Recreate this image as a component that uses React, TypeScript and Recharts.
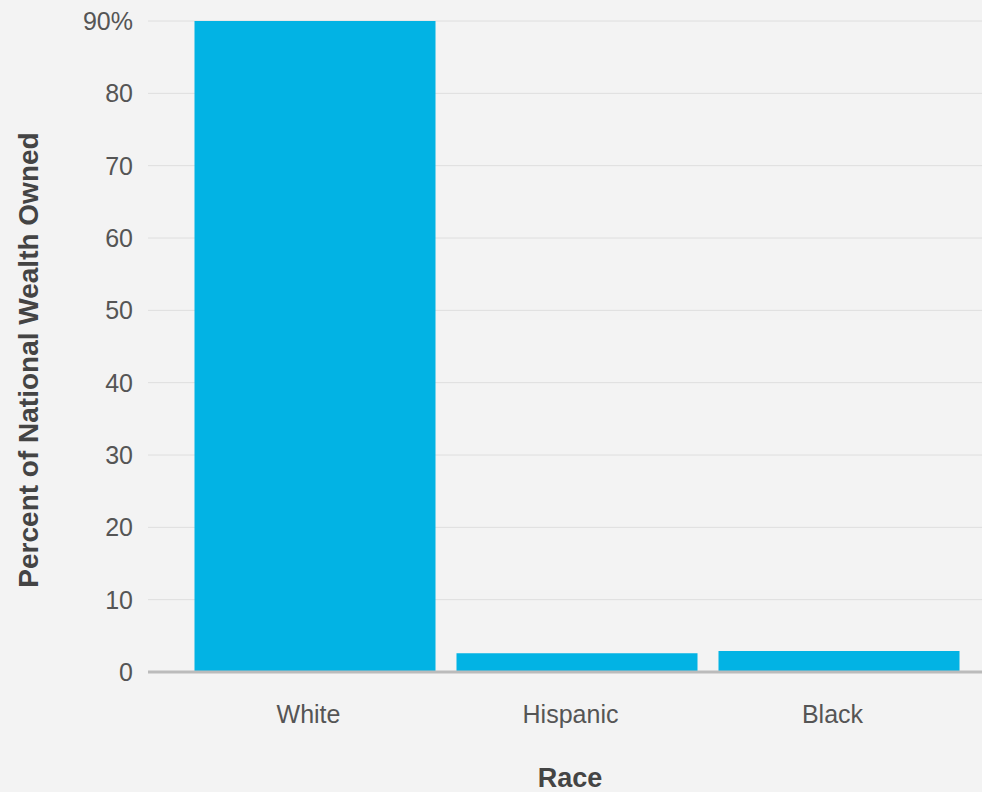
import { BarChart, Bar, XAxis, YAxis, CartesianGrid } from 'recharts';

const races = ['White', 'Hispanic', 'Black'];
const wealthShare = [90, 2.6, 2.9];
const yTicks = [0, 10, 20, 30, 40, 50, 60, 70, 80, 90];

const data = races.map((race, i) => ({ race, share: wealthShare[i] }));

const font = '"Liberation Sans", Arial, sans-serif';
const tickColor = '#555';

export default function App() {
  return (
    <div
      style={{
        position: 'absolute',
        left: 0,
        top: 0,
        width: 982,
        height: 792,
        background: '#f3f3f3',
        fontFamily: font,
      }}
    >
      <BarChart
        width={982}
        height={792}
        data={data}
        margin={{ top: 21, right: 0, left: 0, bottom: 30 }}
        barSize={241}
      >
        <CartesianGrid vertical={false} stroke="#dedede" strokeWidth={1} />
        <XAxis
          dataKey="race"
          height={90}
          padding={{ left: 35.5, right: 12.5 }}
          axisLine={{ stroke: '#bbb', strokeWidth: 3 }}
          tickLine={false}
          tickMargin={27}
          tick={{ fill: tickColor, fontSize: 25, fontFamily: font, dx: -6 }}
          label={{
            value: 'Race',
            position: 'bottom',
            offset: 6,
            dx: 5,
            fill: '#444',
            fontSize: 27,
            fontWeight: 'bold',
            fontFamily: font,
          }}
        />
        <YAxis
          width={148}
          domain={[0, 90]}
          ticks={yTicks}
          interval={0}
          axisLine={false}
          tickLine={false}
          tickMargin={9}
          tickFormatter={(v: number) => (v === 90 ? '90%' : `${v}`)}
          tick={{ fill: tickColor, fontSize: 25, fontFamily: font }}
          label={{
            value: 'Percent of National Wealth Owned',
            angle: -90,
            position: 'center',
            dx: -45.5,
            dy: 13.5,
            fill: '#444',
            fontSize: 28,
            fontWeight: 'bold',
            fontFamily: font,
          }}
        />
        <Bar dataKey="share" fill="#02b3e4" isAnimationActive={false} />
      </BarChart>
    </div>
  );
}
